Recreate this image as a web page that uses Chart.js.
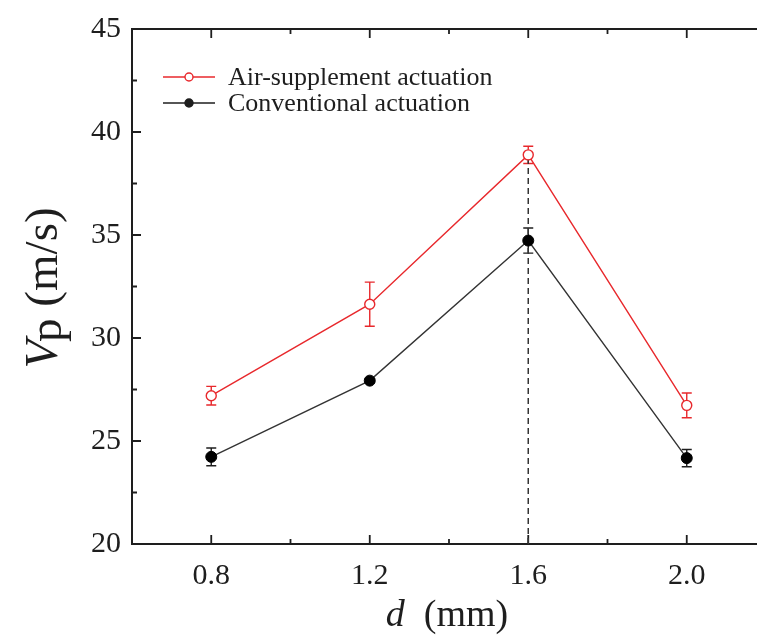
<!DOCTYPE html>
<html lang="en">
<head>
  <meta charset="UTF-8">
  <title>Vp vs d</title>
  <script src="https://cdn.jsdelivr.net/npm/chart.js"></script>
  <style>
    body {
      margin: 0;
      background: #fff;
      overflow: hidden;
    }
    .chart-box {
      width: 780px;
      height: 637px;
    }
  </style>
</head>
<body>
<div class="chart-box"><canvas id="vpChart"></canvas></div>

<script>
  // data
  const dValues = [0.8, 1.2, 1.6, 2.0];
  const airValues = [27.2, 31.64, 38.89, 26.73];
  const airErrors = [0.45, 1.07, 0.42, 0.6];
  const convValues = [24.23, 27.93, 34.73, 24.17];
  const convErrors = [0.43, 0.1, 0.61, 0.42];
  const xTickLabels = ['0.8', '1.2', '1.6', '2.0'];
  const legendLabels = ['Air-supplement actuation', 'Conventional actuation'];
  const peakD = 1.6;

  const RED = '#e8282c';
  const INK = '#1e1e1e';
  const SERIF = "'Liberation Serif', 'DejaVu Serif', serif";

  const toPoints = (ys) => dValues.map((x, i) => ({ x: x, y: ys[i] }));

  // frame, inside ticks, error bars
  const framePlugin = {
    id: 'frame',
    beforeDatasetsDraw(chart) {
      const { ctx, chartArea: a, scales: { x, y } } = chart;
      ctx.save();
      ctx.strokeStyle = INK;
      ctx.lineWidth = 2;
      ctx.beginPath();
      ctx.moveTo(a.right + 2, a.top);
      ctx.lineTo(a.left, a.top);
      ctx.lineTo(a.left, a.bottom);
      ctx.lineTo(a.right + 2, a.bottom);
      ctx.stroke();

      ctx.lineWidth = 1.8;
      ctx.beginPath();
      for (let v = 0.6; v <= 2.21; v += 0.2) {
        const px = x.getPixelForValue(v);
        const major = xTickLabels.includes(v.toFixed(1));
        const len = major ? 9 : 5;
        ctx.moveTo(px, a.bottom); ctx.lineTo(px, a.bottom - len);
        ctx.moveTo(px, a.top); ctx.lineTo(px, a.top + len);
      }
      for (let v = 20; v <= 45.01; v += 2.5) {
        const py = y.getPixelForValue(v);
        const major = Math.abs(v % 5) < 0.01;
        const len = major ? 9 : 5;
        ctx.moveTo(a.left, py); ctx.lineTo(a.left + len, py);
      }
      ctx.stroke();

      // error bars
      const bars = [[airValues, airErrors, RED], [convValues, convErrors, INK]];
      bars.forEach(([vals, errs, col]) => {
        ctx.strokeStyle = col;
        ctx.lineWidth = 1.4;
        ctx.beginPath();
        dValues.forEach((d, i) => {
          const px = x.getPixelForValue(d);
          const top = y.getPixelForValue(vals[i] + errs[i]);
          const bot = y.getPixelForValue(vals[i] - errs[i]);
          ctx.moveTo(px, top); ctx.lineTo(px, bot);
          ctx.moveTo(px - 5, top); ctx.lineTo(px + 5, top);
          ctx.moveTo(px - 5, bot); ctx.lineTo(px + 5, bot);
        });
        ctx.stroke();
      });
      ctx.restore();
    },
    afterDraw(chart) {
      const { ctx } = chart;
      ctx.save();

      // legend
      const rows = [[RED, '#fff'], [INK, INK]];
      rows.forEach(([col, fill], i) => {
        const yy = 77 + i * 26;
        ctx.strokeStyle = col;
        ctx.lineWidth = 1.4;
        ctx.beginPath();
        ctx.moveTo(163, yy); ctx.lineTo(215, yy);
        ctx.stroke();
        ctx.beginPath();
        ctx.arc(189, yy, 4, 0, Math.PI * 2);
        ctx.fillStyle = fill;
        ctx.fill();
        ctx.stroke();
        ctx.fillStyle = INK;
        ctx.font = '26px ' + SERIF;
        ctx.textBaseline = 'middle';
        ctx.textAlign = 'left';
        ctx.fillText(legendLabels[i], 228, yy + 1);
      });

      // x title: d (mm)
      ctx.textBaseline = 'alphabetic';
      ctx.fillStyle = INK;
      ctx.font = 'italic 38px ' + SERIF;
      const dW = ctx.measureText('d').width;
      ctx.font = '38px ' + SERIF;
      const mmW = ctx.measureText('  (mm)').width;
      let sx = 447 - (dW + mmW) / 2;
      ctx.font = 'italic 38px ' + SERIF;
      ctx.fillText('d', sx, 626);
      ctx.font = '38px ' + SERIF;
      ctx.fillText('  (mm)', sx + dW, 626);

      // y title: Vp (m/s), rotated
      ctx.translate(57, 287);
      ctx.rotate(-Math.PI / 2);
      ctx.font = 'italic 47px ' + SERIF;
      const vW = ctx.measureText('V').width;
      ctx.font = '47px ' + SERIF;
      const pW = ctx.measureText('p').width;
      const restW = ctx.measureText(' (m/s)').width;
      let tx = -(vW + pW + restW) / 2;
      ctx.font = 'italic 47px ' + SERIF;
      ctx.fillText('V', tx, 0);
      ctx.font = '47px ' + SERIF;
      ctx.fillText('p', tx + vW - 2, 4);
      ctx.fillText(' (m/s)', tx + vW + pW - 2, 0);
      ctx.restore();
    }
  };

  new Chart(document.getElementById('vpChart'), {
    type: 'scatter',
    data: {
      datasets: [
        {
          label: legendLabels[0],
          data: toPoints(airValues),
          showLine: true,
          borderColor: RED,
          borderWidth: 1.4,
          pointRadius: 5,
          pointBorderWidth: 1.4,
          pointBackgroundColor: '#fff',
          pointBorderColor: RED
        },
        {
          label: legendLabels[1],
          data: toPoints(convValues),
          showLine: true,
          borderColor: '#333',
          borderWidth: 1.4,
          pointRadius: 5.5,
          pointBorderWidth: 1,
          pointBackgroundColor: '#000',
          pointBorderColor: '#000'
        },
        {
          label: 'peak',
          data: [{ x: peakD, y: 20 }, { x: peakD, y: airValues[2] }],
          showLine: true,
          borderColor: '#333',
          borderWidth: 1.5,
          borderDash: [6, 4],
          pointRadius: 0
        }
      ]
    },
    options: {
      responsive: true,
      maintainAspectRatio: false,
      animation: false,
      layout: { padding: { top: 23, right: 14, left: 0, bottom: 0 } },
      plugins: {
        legend: { display: false },
        tooltip: { enabled: false }
      },
      scales: {
        x: {
          type: 'linear',
          min: 0.6,
          max: 2.2,
          grid: { display: false, drawTicks: false },
          border: { display: false },
          ticks: {
            stepSize: 0.2,
            padding: 14,
            color: INK,
            font: { family: SERIF, size: 30 },
            autoSkip: false,
            maxRotation: 0,
            callback: (v) => xTickLabels.includes(Number(v).toFixed(1)) ? Number(v).toFixed(1) : ''
          },
          afterFit: (s) => { s.height = 93; }
        },
        y: {
          min: 20,
          max: 45,
          grid: { display: false, drawTicks: false },
          border: { display: false },
          ticks: {
            stepSize: 5,
            padding: 11,
            color: INK,
            font: { family: SERIF, size: 30 }
          },
          afterFit: (s) => { s.width = 132; }
        }
      }
    },
    plugins: [framePlugin]
  });
</script>
</body>
</html>
